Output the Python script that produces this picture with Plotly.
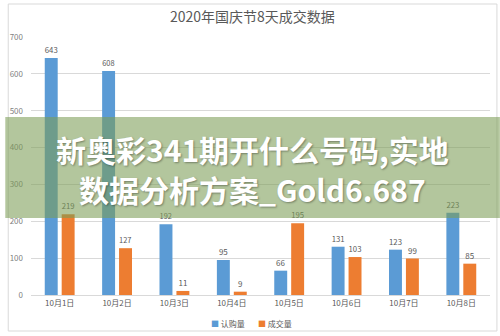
import plotly.graph_objects as go

# Daily figures for the 8-day National Day holiday
days = ["10月1日", "10月2日", "10月3日", "10月4日", "10月5日", "10月6日", "10月7日", "10月8日"]
subscribed = [643, 608, 192, 95, 66, 131, 123, 223]   # 认购量
closed = [219, 127, 11, 9, 195, 103, 99, 85]          # 成交量
y_ticks = [0, 100, 200, 300, 400, 500, 600, 700]

title_text = "2020年国庆节8天成交数据"
series_names = ["认购量", "成交量"]
banner_lines = ["新奥彩341期开什么号码,实地", "数据分析方案_Gold6.687"]

W, H = 500, 336
ML, MR, MT, MB = 26, 10, 37, 41
PW, PH = W - ML - MR, H - MT - MB

BLUE = "#5B9BD5"
ORANGE = "#ED7D31"
GRID = "#D9D9D9"
TEXT = "#595959"
FONT = "Noto Sans CJK SC"


def px_x(x):
    """Pixel column -> paper x."""
    return (x - ML) / PW


def px_y(y):
    """Pixel row (from top) -> paper y."""
    return (H - MB - y) / PH


fig = go.Figure()
for name, vals, color in [(series_names[0], subscribed, BLUE), (series_names[1], closed, ORANGE)]:
    fig.add_trace(go.Bar(
        x=days, y=vals, name=name, marker_color=color, marker_line_width=0,
        text=vals, textposition="outside", cliponaxis=False,
        textfont=dict(size=8, color=TEXT, family=FONT),
    ))

shapes = [
    # outer frame
    dict(type="rect", xref="paper", yref="paper",
         x0=px_x(3), x1=px_x(497), y0=px_y(331), y1=px_y(4),
         line=dict(color=GRID, width=1), layer="below"),
    # translucent banner across the middle
    dict(type="rect", xref="paper", yref="paper",
         x0=px_x(0), x1=px_x(W), y0=px_y(218), y1=px_y(117),
         fillcolor="rgba(124,157,86,0.58)", line_width=0, layer="above"),
]

annotations = [
    dict(text=title_text, xref="paper", yref="paper", x=px_x(250), y=px_y(16),
         xanchor="center", yanchor="middle", showarrow=False,
         font=dict(size=14, color=TEXT, family=FONT)),
    # legend
    dict(text=f"<span style='color:{BLUE}'>■</span> {series_names[0]}",
         xref="paper", yref="paper", x=px_x(244), y=px_y(323),
         xanchor="right", yanchor="middle", showarrow=False,
         font=dict(size=8, color=TEXT, family=FONT)),
    dict(text=f"<span style='color:{ORANGE}'>■</span> {series_names[1]}",
         xref="paper", yref="paper", x=px_x(253), y=px_y(323),
         xanchor="left", yanchor="middle", showarrow=False,
         font=dict(size=8, color=TEXT, family=FONT)),
]
for line, yc in zip(banner_lines, [149, 189]):
    annotations.append(dict(
        text=line, xref="paper", yref="paper", x=px_x(250), y=px_y(yc),
        xanchor="center", yanchor="middle", showarrow=False,
        font=dict(size=30, color="white", family=FONT, weight=700,
                  shadow="1px 1px 2px rgba(0,0,0,0.35)"),
    ))

fig.update_layout(
    width=W, height=H,
    margin=dict(l=ML, r=MR, t=MT, b=MB),
    paper_bgcolor="white", plot_bgcolor="white",
    barmode="group", bargap=0.41, bargroupgap=0.235,
    showlegend=False,
    shapes=shapes, annotations=annotations,
    font=dict(family=FONT),
)
fig.update_xaxes(
    showgrid=False, showline=True, linecolor=GRID, linewidth=1,
    ticks="", tickfont=dict(size=8, color=TEXT, family=FONT),
)
fig.update_yaxes(
    range=[0, 700], tickvals=y_ticks, showgrid=True, gridcolor=GRID, gridwidth=1,
    zeroline=False, showline=False, ticks="", ticklabelstandoff=7,
    tickfont=dict(size=8, color="#7F7F7F", family=FONT),
)

fig.write_html("out.html")
